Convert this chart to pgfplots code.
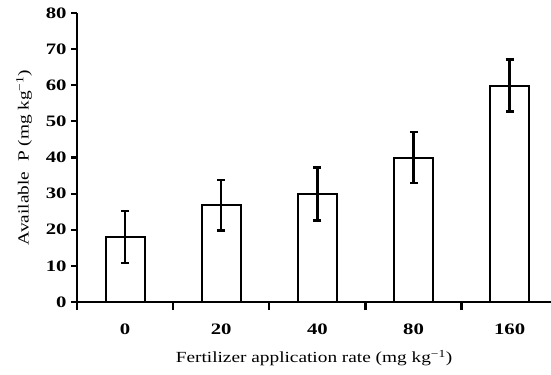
\documentclass[border=0pt]{standalone}
\usepackage{pgfplots}
\pgfplotsset{compat=1.18}
\usepackage{fontspec}
\setmainfont{Liberation Serif}
\newfontfamily\tickfont[FakeStretch=1.3]{Liberation Serif}
\newfontfamily\labfont[FakeStretch=1.25]{Liberation Serif}
\begin{document}
\begin{tikzpicture}
\begin{axis}[
  scale only axis,
  width=474bp, height=289bp,
  xmin=-0.5, xmax=4.43,
  ymin=0, ymax=80,
  axis x line*=bottom,
  axis y line*=left,
  axis line style={line width=2.2bp},
  ytick={0,10,...,80},
  xtick={0,1,2,3,4},
  xticklabels={0,20,40,80,160},
  minor xtick={-0.5,0.5,1.5,2.5,3.5},
  major x tick style={draw=none},
  minor tick length=8bp,
  major tick length=6bp,
  tick style={line width=2.2bp, black},
  tick align=outside,
  /pgf/number format/assume math mode=true,
  yticklabel style={font=\fontsize{16}{17}\tickfont\bfseries, xshift=-1bp},
  xticklabel style={font=\fontsize{16}{17}\tickfont\bfseries, yshift=-12bp},
  xlabel={Fertilizer application rate (mg kg\textsuperscript{\char"2212 1})},
  ylabel={Available\ \ P (mg kg\textsuperscript{\char"2212 1})},
  label style={font=\fontsize{15.5}{16}\labfont},
  xlabel style={yshift=-9bp},
  ylabel style={yshift=7bp},
  clip=false,
]
\addplot[ybar, bar width=39bp, draw=black, line width=2bp, fill=white,
  error bars/.cd, y dir=both, y explicit,
  error bar style={line width=2.5bp},
  error mark options={rotate=90, mark size=4bp, line width=2.5bp}]
  coordinates {
    (0,18.0) +- (0,7.2)
    (1,26.8) +- (0,7.0)
    (2,29.9) +- (0,7.3)
    (3,40.0) +- (0,7.1)
    (4,59.9) +- (0,7.2)
  };
\coordinate (sw) at (rel axis cs:0,0);
\end{axis}
\pgfresetboundingbox
\path (sw) ++(-77bp,-73bp) rectangle ++(551bp,375bp);
\end{tikzpicture}
\end{document}
